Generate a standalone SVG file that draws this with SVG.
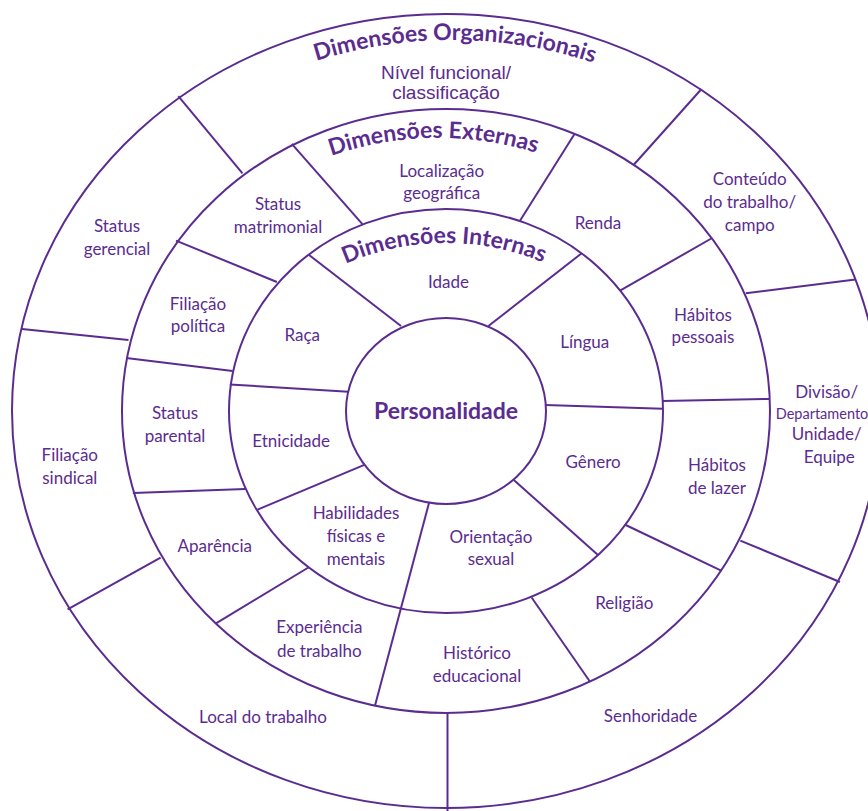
<svg xmlns="http://www.w3.org/2000/svg" width="868" height="811" viewBox="0 0 868 811">
<style>
.ring{fill:none;stroke:#5b2c90;stroke-width:2}
.div{stroke:#5b2c90;stroke-width:2;fill:none}
.lbl{font-family:Lato,"Noto Sans",sans-serif;font-size:17px;fill:#5b2c90;text-anchor:middle}
.arial{font-family:"Liberation Sans",Arial,sans-serif;font-size:19px;fill:#5b2c90;text-anchor:middle}
.title{font-family:Lato,"Noto Sans",sans-serif;font-weight:bold;font-size:23px;fill:#5b2c90;text-anchor:middle}
.core{font-family:Lato,"Noto Sans",sans-serif;font-weight:bold;font-size:23px;fill:#5b2c90;text-anchor:middle}
</style>
<defs>
<path id="arcOrg" d="M162.7,145.3 A450,450 0 0 1 741.3,145.3"/>
<path id="arcExt" d="M229.1,213.9 A325,325 0 0 1 646.9,213.9"/>
<path id="arcInt" d="M269.2,316.2 A250,250 0 0 1 622.8,316.2"/>
</defs>
<rect width="868" height="811" fill="#ffffff"/>
<g id="rings">
<ellipse class="ring" cx="446" cy="411" rx="434" ry="397"/>
<ellipse class="ring" cx="446" cy="411" rx="324" ry="302"/>
<ellipse class="ring" cx="446" cy="411" rx="217" ry="202"/>
<ellipse class="ring" cx="446" cy="411" rx="100" ry="93"/>
</g>
<g id="connectors">
<line class="div" x1="401" y1="326" x2="308.4" y2="254.5"/>
<line class="div" x1="488.4" y1="326" x2="581.4" y2="253.5"/>
<line class="div" x1="545.4" y1="405" x2="662.8" y2="408.7"/>
<line class="div" x1="513.8" y1="480" x2="598" y2="555"/>
<line class="div" x1="429" y1="503" x2="374.9" y2="706"/>
<line class="div" x1="364.3" y1="464.9" x2="257.5" y2="509.6"/>
<line class="div" x1="348.3" y1="391.7" x2="229.8" y2="384.4"/>
<line class="div" x1="362.4" y1="224.1" x2="291.8" y2="143.8"/>
<line class="div" x1="520" y1="220.8" x2="574.2" y2="134.5"/>
<line class="div" x1="620" y1="290.7" x2="711.3" y2="238.5"/>
<line class="div" x1="662.8" y1="401" x2="769.7" y2="398.9"/>
<line class="div" x1="625.7" y1="525" x2="721.7" y2="570.9"/>
<line class="div" x1="531.6" y1="597.5" x2="589.7" y2="681.3"/>
<line class="div" x1="308.4" y1="567.5" x2="216" y2="623.4"/>
<line class="div" x1="245.3" y1="488.9" x2="132.9" y2="493"/>
<line class="div" x1="232.6" y1="371" x2="126.2" y2="358"/>
<line class="div" x1="276.9" y1="282" x2="176" y2="240.6"/>
<line class="div" x1="242.5" y1="173.3" x2="178.3" y2="96.2"/>
<line class="div" x1="634" y1="164.5" x2="701.5" y2="89"/>
<line class="div" x1="745.8" y1="293.3" x2="855.5" y2="279.4"/>
<line class="div" x1="740.3" y1="540.6" x2="840" y2="582"/>
<line class="div" x1="447.5" y1="713" x2="447.5" y2="811"/>
<line class="div" x1="160.6" y1="557.7" x2="67.6" y2="609.4"/>
<line class="div" x1="128.5" y1="340" x2="22" y2="329"/>
</g>
<g id="titles">
<text class="title"><textPath href="#arcOrg" startOffset="50.5%">Dimensões Organizacionais</textPath></text>
<text class="title"><textPath href="#arcExt" startOffset="49%">Dimensões Externas</textPath></text>
<text class="title"><textPath href="#arcInt" startOffset="49.5%">Dimensões Internas</textPath></text>
</g>
<g id="n-personalidade"><text class="core" x="446" y="419">Personalidade</text></g>
<g id="n-idade"><text class="lbl" x="448.5" y="288">Idade</text></g>
<g id="n-lingua"><text class="lbl" x="584.7" y="348">Língua</text></g>
<g id="n-raca"><text class="lbl" x="302.3" y="340.5">Raça</text></g>
<g id="n-etnicidade"><text class="lbl" x="291.2" y="447">Etnicidade</text></g>
<g id="n-genero"><text class="lbl" x="593" y="467.5">Gênero</text></g>
<g id="n-habilidades"><text class="lbl" x="356" y="519.3">Habilidades</text><text class="lbl" x="356" y="542">físicas e</text><text class="lbl" x="356" y="565">mentais</text></g>
<g id="n-orientacao"><text class="lbl" x="491" y="542.7">Orientação</text><text class="lbl" x="491" y="565.3">sexual</text></g>
<g id="n-localizacao"><text class="lbl" x="441.7" y="176.5">Localização</text><text class="lbl" x="441.7" y="198.5">geográfica</text></g>
<g id="n-renda"><text class="lbl" x="598" y="228.5">Renda</text></g>
<g id="n-habitos-pessoais"><text class="lbl" x="703" y="320.5">Hábitos</text><text class="lbl" x="703" y="343.3">pessoais</text></g>
<g id="n-habitos-lazer"><text class="lbl" x="717" y="471">Hábitos</text><text class="lbl" x="717" y="493.8">de lazer</text></g>
<g id="n-religiao"><text class="lbl" x="624.3" y="609.3">Religião</text></g>
<g id="n-historico"><text class="lbl" x="477" y="658.7">Histórico</text><text class="lbl" x="477" y="681.7">educacional</text></g>
<g id="n-experiencia"><text class="lbl" x="319.3" y="633.3">Experiência</text><text class="lbl" x="319.3" y="656.7">de trabalho</text></g>
<g id="n-aparencia"><text class="lbl" x="214.8" y="551.8">Aparência</text></g>
<g id="n-status-parental"><text class="lbl" x="175" y="419.4">Status</text><text class="lbl" x="175" y="442">parental</text></g>
<g id="n-filiacao-politica"><text class="lbl" x="198" y="309.7">Filiação</text><text class="lbl" x="198" y="332.4">política</text></g>
<g id="n-status-matrimonial"><text class="lbl" x="278" y="210">Status</text><text class="lbl" x="278" y="232.6">matrimonial</text></g>
<g id="n-nivel"><text class="arial" x="446" y="78.5">Nível funcional/</text><text class="arial" x="446" y="98.5">classificação</text></g>
<g id="n-conteudo"><text class="lbl" x="749.7" y="185">Conteúdo</text><text class="lbl" x="749.7" y="207.8">do trabalho/</text><text class="lbl" x="749.7" y="231">campo</text></g>
<g id="n-divisao"><text class="lbl" x="826.7" y="397.5">Divisão/</text><text class="lbl" x="822" y="418.5" style="font-size:14.5px">Departamento</text><text class="lbl" x="826.7" y="440">Unidade/</text><text class="lbl" x="829.3" y="462.7">Equipe</text></g>
<g id="n-senhoridade"><text class="lbl" x="650.6" y="722">Senhoridade</text></g>
<g id="n-local"><text class="lbl" x="263" y="723">Local do trabalho</text></g>
<g id="n-filiacao-sindical"><text class="lbl" x="69.8" y="460.7">Filiação</text><text class="lbl" x="69.8" y="483.5">sindical</text></g>
<g id="n-status-gerencial"><text class="lbl" x="117" y="232">Status</text><text class="lbl" x="117" y="255.4">gerencial</text></g>
</svg>
